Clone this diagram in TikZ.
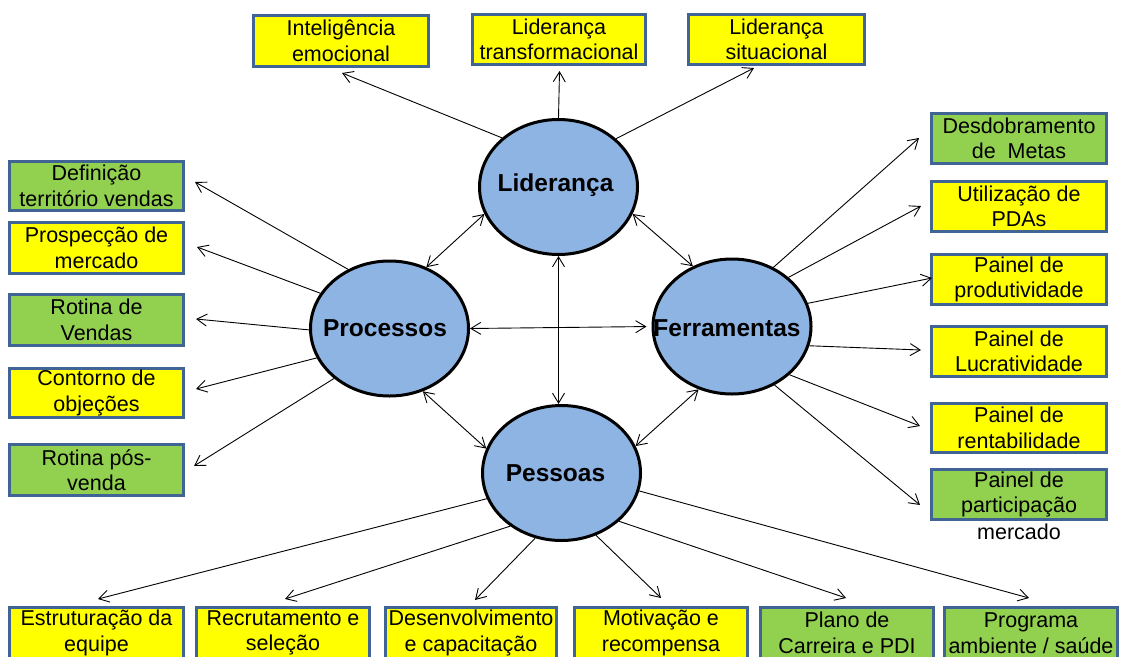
\documentclass[tikz,border=0pt]{standalone}
\usepackage{fontspec}
\setmainfont{Liberation Sans}
\usetikzlibrary{shapes.geometric,arrows.meta,calc}
\definecolor{boxyellow}{RGB}{255,255,0}
\definecolor{boxgreen}{RGB}{146,208,80}
\definecolor{boxedge}{RGB}{64,100,148}
\definecolor{hubfill}{RGB}{142,180,227}

\begin{document}
\begin{tikzpicture}[x=1pt,y=-1pt,
  box/.style={draw=boxedge, line width=2.8pt, inner sep=0pt, align=center,
    font=\fontsize{21.5}{25.5}\selectfont, minimum width=174.5pt, minimum height=51.5pt},
  yel/.style={box, fill=boxyellow},
  grn/.style={box, fill=boxgreen},
  hub/.style={ellipse, draw=black, line width=3pt, fill=hubfill, inner sep=0pt,
    minimum width=158pt, minimum height=135pt},
  hubtext/.style={inner sep=0pt, font=\fontsize{24.5}{28}\selectfont\bfseries},
  arr/.style={-{Straight Barb[length=10pt,width=12pt]}, line width=0.9pt},
  darr/.style={{Straight Barb[length=10pt,width=12pt]}-{Straight Barb[length=10pt,width=12pt]}, line width=0.9pt}]

\clip (0,0) rectangle (1121,656);
\fill[white] (0,0) rectangle (1121,656);

% the four hubs
\node[hub] (L) at (558.5,187) {};
\node[hub] (P) at (389.5,328.5) {};
\node[hub] (F) at (732,326.5) {};
\node[hub] (S) at (561.5,473) {};
\node[hubtext] (Lt) at (555.5,185) {Liderança};
\node[hubtext] (Pt) at (385,328) {Processos};
\node[hubtext] (Ft) at (727,328) {Ferramentas};
\node[hubtext] (St) at (555.5,473) {Pessoas};

% leadership topics
\node[yel, minimum width=175.5pt] (intel) at (341,41) {Inteligência\\emocional};
\node[yel, minimum width=173.5pt, minimum height=50.5pt] (trans) at (559,39.5) {Liderança\\transformacional};
\node[yel, minimum width=176.5pt, minimum height=50.5pt] (sit) at (776.5,39.5) {Liderança\\situacional};

% process topics
\node[grn, minimum height=49.5pt] (def) at (96.5,186) {Definição\\território vendas};
\node[yel] (pros) at (96.5,248) {Prospecção de\\mercado};
\node[grn] (rot) at (96.5,320) {Rotina de\\Vendas};
\node[yel, minimum height=49.5pt] (cont) at (96.5,393) {Contorno de\\objeções};
\node[grn] (pos) at (96.5,470) {Rotina pós-\\venda};

% tool topics
\node[grn, minimum width=175.5pt, minimum height=50.5pt] (desd) at (1019,138.5) {Desdobramento\\de~~Metas};
\node[yel, minimum width=175.5pt, minimum height=50.5pt] (util) at (1019,206.5) {Utilização de\\PDAs};
\node[yel, minimum width=175.5pt, minimum height=50.5pt] (prod) at (1019,279.5) {Painel de\\produtividade};
\node[yel, minimum width=175.5pt, minimum height=50.5pt] (lucr) at (1019,351.5) {Painel de\\Lucratividade};
\node[yel, minimum width=175.5pt, minimum height=49.5pt] (rent) at (1019,428) {Painel de\\rentabilidade};
\node[grn, minimum width=175.5pt, minimum height=50.5pt] (part) at (1019,494.5) {Painel de\\participação};
\node[inner sep=0pt, font=\fontsize{21.5}{25.5}\selectfont] (partx) at (1019,532) {mercado};

% people topics (the row runs past the lower edge)
\node[yel] (estr) at (96.5,633) {Estruturação da\\equipe};
\node[yel, minimum width=173.5pt] (recr) at (283,633) {Recrutamento e\\seleção};
\node[yel, minimum width=171.5pt] (desv) at (471,633) {Desenvolvimento\\e capacitação};
\node[yel, minimum width=173.5pt] (motiv) at (661,633) {Motivação e\\recompensa};
\node[grn, minimum width=173.5pt] (plano) at (847,633) {Plano de\\Carreira e PDI};
\node[grn, minimum width=173.5pt] (prog) at (1031,633) {Programa\\ambiente / saúde};

% arrow tips in front of the topic boxes
\coordinate (intelTip) at (342,73);
\coordinate (transTip) at (559.5,71);
\coordinate (sitTip) at (754,68);
\coordinate (defTip) at (195,182);
\coordinate (prosTip) at (197,247);
\coordinate (rotTip) at (196,319);
\coordinate (contTip) at (196,389);
\coordinate (posTip) at (194,466);
\coordinate (desdTip) at (919,138);
\coordinate (utilTip) at (921,206);
\coordinate (prodTip) at (932,278);
\coordinate (lucrTip) at (921,350);
\coordinate (rentTip) at (920,426);
\coordinate (partTip) at (920,505);
\coordinate (estrTip) at (98,599);
\coordinate (recrTip) at (285,599);
\coordinate (desvTip) at (475,600);
\coordinate (motivTip) at (661,598);
\coordinate (planoTip) at (846,598);
\coordinate (progTip) at (1029,598);

% spokes
\draw[arr] (L.139) -- (intelTip);
\draw[arr] (L.90) -- (transTip);
\draw[arr] (L.40) -- (sitTip);

\draw[arr] (P.125) -- (defTip);
\draw[arr] (P.153) -- (prosTip);
\draw[arr] (P.181) -- (rotTip);
\draw[arr] (P.202) -- (contTip);
\draw[arr] (P.222) -- (posTip);

\draw[arr] (F.55) -- (desdTip);
\draw[arr] (F.41) -- (utilTip);
\draw[arr] (F.17) -- (prodTip);
\draw[arr] (F.-14) -- (lucrTip);
\draw[arr] (F.-40) -- (rentTip);
\draw[arr] (F.-54) -- (partTip);

\draw[arr] (S.199) -- (estrTip);
\draw[arr] (S.226) -- (recrTip);
\draw[arr] (S.248) -- (desvTip);
\draw[arr] (S.299) -- (motivTip);
\draw[arr] (S.320) -- (planoTip);
\draw[arr] (S.347) -- (progTip);

% links between hubs
\draw[darr] (L.200) -- (P.59);
\draw[darr] (L.-20) -- (F.123);
\draw[darr] (L.south) -- (L.south |- S.north);
\draw[darr, shorten >=5pt] (P.east) -- (F.west);
\draw[darr] (P.-62) -- (S.162);
\draw[darr] (F.242) -- (S.20);
\end{tikzpicture}
\end{document}
